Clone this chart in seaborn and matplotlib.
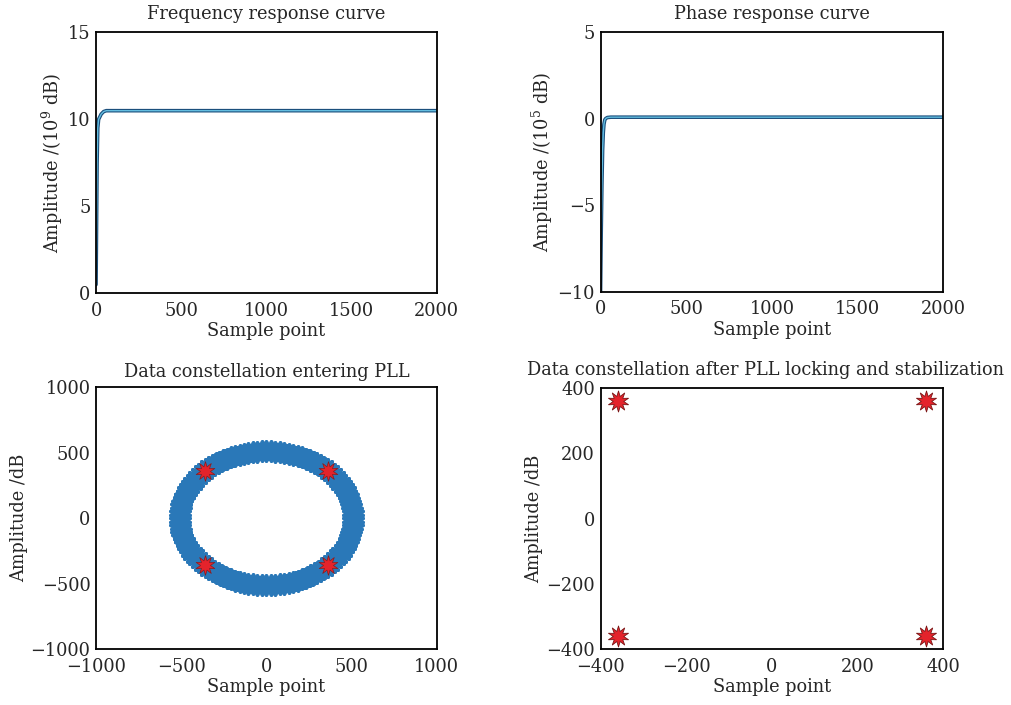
import matplotlib
matplotlib.use('Agg')
import matplotlib.pyplot as plt
import numpy as np
import pandas as pd
import seaborn as sns

# frequency response
freq_x = [0, 3, 6, 10, 15, 20, 30, 45, 60, 100, 500, 1000, 1500, 2000]
freq_y = [0.5, 4.0, 7.5, 9.5, 10.0, 10.1, 10.3, 10.45, 10.5, 10.5, 10.5, 10.5, 10.5, 10.5]

# phase response
phase_x = [0, 4, 8, 12, 16, 20, 25, 30, 40, 60, 100, 500, 1000, 1500, 2000]
phase_y = [-10.0, -6.5, -3.8, -1.8, -0.8, -0.3, -0.05, 0.02, 0.08, 0.1, 0.1, 0.1, 0.1, 0.1, 0.1]

# constellation entering PLL: symbols spread round a ring of radius ~510
ring_radius = 510
ring_phase_deg = [
    0, 3, 6, 9, 12, 15, 18, 21, 24, 27, 30, 33, 36, 39, 42, 45, 48, 51, 54, 57,
    60, 63, 66, 69, 72, 75, 78, 81, 84, 87, 90, 93, 96, 99, 102, 105, 108, 111, 114, 117,
    120, 123, 126, 129, 132, 135, 138, 141, 144, 147, 150, 153, 156, 159, 162, 165, 168, 171, 174, 177,
    180, 183, 186, 189, 192, 195, 198, 201, 204, 207, 210, 213, 216, 219, 222, 225, 228, 231, 234, 237,
    240, 243, 246, 249, 252, 255, 258, 261, 264, 267, 270, 273, 276, 279, 282, 285, 288, 291, 294, 297,
    300, 303, 306, 309, 312, 315, 318, 321, 324, 327, 330, 333, 336, 339, 342, 345, 348, 351, 354, 357,
]

# QPSK points after locking
qpsk_i = [360, -360, -360, 360]
qpsk_q = [360, 360, -360, -360]

sns.set_style('white')
plt.rcParams['font.family'] = ['DejaVu Serif']
plt.rcParams['mathtext.fontset'] = 'dejavuserif'
FS = 12.8

fig = plt.figure(figsize=(10.11, 7.05), dpi=100)
ax1 = fig.add_axes([0.095, 0.584, 0.337, 0.370])
ax2 = fig.add_axes([0.594, 0.586, 0.339, 0.368])
ax3 = fig.add_axes([0.095, 0.079, 0.337, 0.372])
ax4 = fig.add_axes([0.594, 0.079, 0.339, 0.371])

blue_dark = '#1b4f7c'
blue_light = '#63bde0'
red = '#e4232b'
ring_blue = '#2a78b8'

sns.lineplot(x=freq_x, y=freq_y, ax=ax1, color=blue_dark, lw=2.6)
sns.lineplot(x=freq_x, y=freq_y, ax=ax1, color=blue_light, lw=1.0)
ax1.set_xlim(0, 2000)
ax1.set_ylim(0, 15)
ax1.set_xticks([0, 500, 1000, 1500, 2000])
ax1.set_yticks([0, 5, 10, 15])
ax1.set_title('Frequency response curve', fontsize=FS, pad=10)
ax1.set_ylabel(r'Amplitude /(10$^9$ dB)', fontsize=FS)

sns.lineplot(x=phase_x, y=phase_y, ax=ax2, color=blue_dark, lw=2.6)
sns.lineplot(x=phase_x, y=phase_y, ax=ax2, color=blue_light, lw=1.0)
ax2.set_xlim(0, 2000)
ax2.set_ylim(-10, 5)
ax2.set_xticks([0, 500, 1000, 1500, 2000])
ax2.set_yticks([-10, -5, 0, 5])
ax2.set_title('Phase response curve', fontsize=FS, pad=10)
ax2.set_ylabel(r'Amplitude /(10$^5$ dB)', fontsize=FS)

ang = np.deg2rad(ring_phase_deg)
ring = pd.DataFrame({'i': ring_radius * np.cos(ang), 'q': ring_radius * np.sin(ang)})
sns.scatterplot(data=ring, x='i', y='q', ax=ax3, marker=(8, 2, 0), s=210,
                color='#1c3550', edgecolor='#1c3550', linewidth=1.0, alpha=0.6, zorder=2)
sns.scatterplot(data=ring, x='i', y='q', ax=ax3, marker=(8, 2, 0), s=180,
                color=ring_blue, edgecolor=ring_blue, linewidth=2.8, zorder=3)
sns.scatterplot(x=qpsk_i, y=qpsk_q, ax=ax3, marker=(10, 1, 0), s=200,
                color=red, edgecolor='#8a1a1a', linewidth=0.5, zorder=4)
ax3.set_xlim(-1000, 1000)
ax3.set_ylim(-1000, 1000)
ax3.set_xticks([-1000, -500, 0, 500, 1000])
ax3.set_yticks([-1000, -500, 0, 500, 1000])
ax3.set_title('Data constellation entering PLL', fontsize=FS, pad=7)
ax3.set_ylabel('Amplitude /dB', fontsize=FS)

sns.scatterplot(x=qpsk_i, y=qpsk_q, ax=ax4, marker=(10, 1, 0), s=230,
                color=red, edgecolor='#7a1515', linewidth=0.6, zorder=4)
ax4.set_xlim(-400, 400)
ax4.set_ylim(-400, 400)
ax4.set_xticks([-400, -200, 0, 200, 400])
ax4.set_yticks([-400, -200, 0, 200, 400])
ax4.set_title('Data constellation after PLL locking and stabilization', fontsize=FS,
              pad=9, x=0.48)
ax4.set_ylabel('Amplitude /dB', fontsize=FS)

for ax in (ax1, ax2, ax3, ax4):
    ax.set_xlabel('Sample point', fontsize=FS, labelpad=2)
    ax.tick_params(axis='x', labelsize=FS, direction='in', length=3, width=1, pad=6)
    ax.tick_params(axis='y', labelsize=FS, direction='in', length=3, width=1, pad=4)
    ax.yaxis.labelpad = 2
    for sp in ax.spines.values():
        sp.set_visible(True)
        sp.set_color('black')
        sp.set_linewidth(1.3)

fig.savefig('out.png', dpi=100)
